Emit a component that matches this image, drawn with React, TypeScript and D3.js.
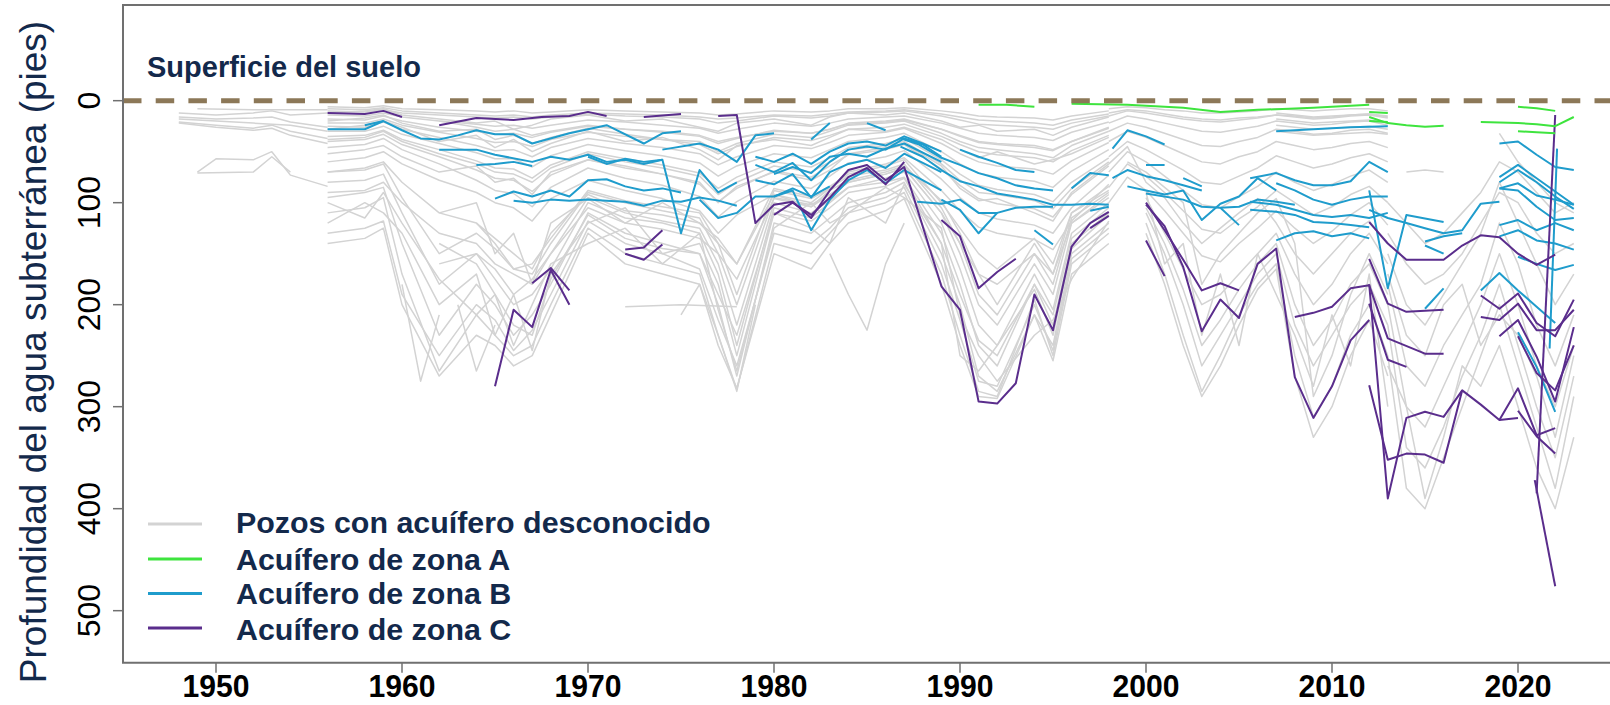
import React from 'react';
import * as d3 from 'd3';

type Pt = [number, number];
type Row = (number | null)[];

const W = 1610;
const H = 705;

const xTicks = [1950, 1960, 1970, 1980, 1990, 2000, 2010, 2020];
const yTicks = [0, 100, 200, 300, 400, 500];

// wells measured on the common 1956-1998 schedule
const bandYears = [1956, 1958, 1959, 1960, 1962, 1964, 1965, 1966, 1967, 1968, 1970, 1972, 1974, 1976, 1977, 1978, 1980, 1982, 1983, 1984, 1986, 1987, 1989, 1990, 1991, 1992, 1994, 1995, 1996, 1998];
const bandWells: Row[] = [
  [6, 7, 5, 8, 9, 10, 11, 10, 12, 11, 9, 10, 11, 12, 14, 13, 10, 11, 10, 8, 8, 7, 10, 12, 15, 16, 17, 19, 15, 10],
  [10, 11, 9, 12, 14, 16, 17, 16, 18, 16, 13, 15, 16, 18, 22, 20, 15, 17, 15, 12, 11, 10, 15, 19, 23, 24, 26, 28, 22, 15],
  [14, 15, 12, 16, 20, 23, 25, 24, 27, 24, 19, 21, 24, 27, 32, 28, 22, 25, 22, 18, 16, 15, 22, 27, 32, 34, 36, 39, 31, 21],
  [18, 19, 15, 20, 26, 30, 33, 32, 36, 31, 25, 28, 31, 35, 42, 37, 29, 32, 28, 23, 21, 19, 28, 35, 41, 43, 46, 49, 40, 27],
  [22, 22, 18, 24, 31, 37, 41, 40, 45, 38, 31, 35, 38, 43, 52, 45, 36, 39, 34, 28, 26, 23, 35, 43, 50, 53, 56, 60, 49, 34],
  [25, 26, 21, 28, 36, 44, 49, 48, 55, 46, 37, 42, 46, 52, 63, 55, 44, 47, 41, 34, 31, 27, 42, 52, 60, 64, 67, 72, 59, 41],
  [30, 30, 25, 33, 42, 51, 57, 57, 65, 54, 43, 49, 54, 61, 74, 64, 52, 56, 48, 40, 36, 32, 50, 62, 71, 75, 79, 85, 69, 48],
  [35, 34, 29, 38, 48, 59, 66, 67, 76, 63, 50, 57, 63, 71, 86, 75, 60, 65, 56, 46, 42, 37, 58, 72, 83, 87, 92, 99, 80, 56],
  [40, 38, 33, 43, 55, 68, 76, 78, 89, 73, 58, 66, 72, 82, 99, 86, 69, 75, 64, 53, 48, 43, 67, 83, 96, 101, 106, 114, 92, 64],
  [46, 43, 37, 48, 62, 78, 88, 91, 104, 85, 66, 76, 83, 94, 114, 99, 79, 86, 74, 61, 55, 49, 77, 95, 110, 116, 122, 130, 105, 73],
  [12, 10, 8, 14, 18, 22, 20, 28, 24, 18, 14, 20, 18, 26, 30, 22, 18, 24, 16, 12, 14, 12, 20, 26, 24, 30, 28, 34, 26, 16],
  [28, 24, 20, 26, 40, 34, 46, 38, 50, 42, 30, 40, 36, 48, 58, 44, 38, 44, 36, 28, 30, 26, 38, 48, 56, 50, 62, 58, 52, 36],
  [52, 48, 44, 55, 70, 64, 80, 76, 92, 70, 58, 64, 72, 80, 100, 84, 70, 78, 68, 52, 46, 42, 64, 86, 98, 96, 110, 118, 90, 62],
  [null, null, null, null, 20, 26, 30, 28, 34, 30, 24, 28, 30, 34, 40, 36, 30, 32, 28, 22, 20, 18, 28, 34, 40, 42, 44, 48, 40, 26],
  [60, 56, 50, 62, 78, 90, 100, 105, 118, 96, 78, 88, 96, 108, 130, 112, 92, 100, 86, 70, 62, 56, 88, 108, 124, 130, 136, 146, 118, 82],
  [8, 9, 7, 10, 12, 14, 15, 14, 16, 14, 12, 13, 14, 16, 18, 17, 14, 15, 13, 11, 10, 9, 13, 16, 19, 20, 22, 24, 19, 13],
  [20, 17, 14, 22, 30, 28, 38, 34, 42, 36, 27, 33, 38, 40, 50, 42, 33, 36, 30, 24, 22, 20, 32, 40, 46, 48, 52, 56, 44, 30],
  [38, 36, 30, 40, 52, 62, 70, 72, 80, 66, 52, 60, 66, 74, 92, 80, 64, 70, 60, 48, 44, 40, 62, 78, 90, 92, 98, 106, 86, 60],
  [95, 90, 85, 140, 230, 180, 200, 230, 210, 180, 110, 130, 140, 150, 200, 270, 120, 130, 115, 100, 90, 80, 150, 200, 270, 285, 210, 240, 150, 120],
  [110, 105, 95, 170, 265, 210, 230, 250, 240, 200, 125, 150, 160, 170, 230, 283, 140, 150, 130, 110, 100, 90, 170, 230, 285, 290, 195, 250, 160, 130],
  [null, null, null, null, 160, 150, 175, 200, 190, 165, 100, 115, 120, 130, 170, 240, 105, 115, 100, 85, 80, 75, 130, 180, 240, 260, 180, 220, 140, 110],
  [130, 125, 118, 190, 250, 200, 215, 245, 225, 190, 118, 140, 150, 165, 215, 260, 130, 140, 125, 105, 95, 85, 160, 215, 275, 280, 200, 245, 155, 125],
  [80, 78, 72, 110, 180, 150, 165, 190, 175, 150, 95, 110, 118, 125, 160, 220, 100, 110, 98, 85, 76, 70, 120, 165, 220, 240, 170, 205, 130, 100],
  [null, null, null, null, null, 120, 140, 165, 170, 140, 90, 100, 108, 115, 150, 200, 95, 102, 92, 80, 72, 66, 110, 150, 200, 220, 160, 190, 120, 95],
  [140, 135, 125, 200, 270, 230, 240, 260, 250, 210, 130, 160, 170, 180, 240, 282, 150, 165, 140, 120, 108, 96, 180, 240, 290, 292, 210, 255, 170, 140],
  [70, 68, 62, 95, 150, 130, 145, 165, 160, 135, 88, 98, 104, 110, 140, 190, 88, 96, 86, 74, 68, 62, 105, 140, 190, 210, 150, 180, 115, 90],
  [120, 100, 110, 130, 200, 170, 230, 190, 245, 170, 120, 105, 150, 140, 180, 250, 110, 125, 140, 95, 120, 82, 140, 250, 265, 240, 185, 230, 145, 112],
  [null, null, null, null, 110, 100, 150, 130, 180, 120, 96, 120, 100, 120, 135, 160, 92, 104, 88, 78, 70, 64, 98, 130, 170, 200, 140, 170, 110, 88],
  [90, 88, 80, 100, 130, 140, 160, 170, 180, 150, 105, 120, 126, 135, 150, 175, 96, 104, 92, 80, 72, 66, 110, 140, 170, 180, 150, 170, 120, 92],
  [null, null, null, null, 140, 160, 190, 220, 230, 175, 112, 135, 145, 150, 190, 230, 110, 118, 105, 90, 84, 76, 140, 190, 235, 250, 180, 210, 135, 105],
  [70, 66, 60, 80, 110, 120, 135, 150, 165, 130, 92, 108, 112, 120, 140, 160, 86, 94, 84, 72, 64, 58, 100, 125, 150, 165, 135, 160, 110, 84],
  [100, 115, 90, 120, 175, 210, 190, 240, 200, 160, 140, 125, 160, 130, 205, 265, 125, 100, 120, 110, 85, 95, 125, 210, 250, 275, 230, 215, 175, 118],
];

// wells measured 1998-2013
const midYears = [1998, 1999, 2000, 2001, 2002, 2003, 2004, 2005, 2006, 2007, 2008, 2009, 2010, 2011, 2012, 2013];
const midWells: Row[] = [
  [8, 6, 7, 9, 10, 12, 12, 11, 10, 8, 9, 10, 9, 8, 8, 10],
  [15, 10, 12, 15, 18, 20, 21, 19, 17, 14, 15, 17, 16, 14, 13, 16],
  [22, 15, 18, 22, 26, 30, 31, 28, 25, 20, 22, 24, 23, 21, 20, 24],
  [30, 22, 26, 32, 38, 44, 45, 40, 36, 28, 30, 33, 32, 29, 28, 32],
  [40, 30, 36, 44, 52, 60, 62, 55, 50, 40, 44, 48, 46, 42, 40, 46],
  [55, 40, 48, 58, 68, 80, 82, 74, 66, 54, 60, 66, 62, 56, 52, 60],
  [70, 50, 60, 74, 88, 102, 105, 94, 84, 70, 80, 88, 82, 74, 68, 80],
  [85, 62, 74, 90, 108, 126, 130, 116, 104, 88, 100, 112, 104, 92, 84, 100],
  [100, 75, 88, 108, 130, 152, 158, 140, 125, 108, 125, 140, 128, 112, 100, 122],
  [null, null, 95, 130, 165, 200, 190, 170, 150, 130, 170, 200, 180, 150, 130, 160],
  [null, null, 110, 150, 200, 260, 230, 200, 170, 150, 220, 260, 230, 200, 180, 220],
  [null, null, 120, 170, 230, 285, 250, 210, 180, 160, 250, 310, 280, 230, 200, 250],
  [null, null, 105, 140, 185, 240, 215, 185, 160, 140, 200, 240, 215, 180, 160, 200],
  [null, null, 130, 180, 240, 290, 260, 220, 185, 165, 270, 330, 300, 250, 215, 270],
  [12, 9, 10, 13, 16, 18, 19, 17, 16, 14, 16, 18, 17, 15, 14, 17],
  [62, 45, 80, 95, 120, 140, 125, 110, 96, 120, 150, 170, 150, 130, 118, 140],
  [null, 60, 70, 85, 100, 180, 150, 130, 110, 96, 140, 290, 250, 190, 150, 190],
  [null, null, 90, 160, 140, 230, 170, 240, 150, 190, 230, 280, 210, 260, 170, 300],
];

// wells measured 2013-2023
const lateYears = [2013, 2014, 2015, 2016, 2017, 2018, 2019, 2020, 2021, 2022, 2023];
const lateWells: Row[] = [
  [100, 120, 140, 130, 110, 90, 60, 70, 90, 110, 100],
  [150, 200, 220, 190, 160, 130, 80, 120, 160, 200, 170],
  [200, 300, 320, 280, 240, 200, 150, 200, 260, 300, 240],
  [250, 380, 400, 350, 300, 250, 200, 260, 320, 380, 290],
  [180, 260, 280, 240, 210, 180, 120, 160, 220, 260, 210],
  [130, 160, 180, 170, 150, 120, 90, 100, 130, 150, 140],
  [220, 340, 360, 320, 270, 230, 180, 240, 300, 350, 270],
  [null, null, null, null, null, null, 32, 60, 80, 100, 110],
  [null, 70, 68, 70, null, null, null, null, null, null, null],
  [170, 230, 250, 200, 180, 240, 210, 230, 270, 330, 250],
  [260, 300, 390, 330, 260, 280, 240, 300, 360, 400, 330],
];

const grayExtra: Pt[][] = [
  [[1948, 12], [1950, 14], [1952, 12], [1953, 10], [1954, 14], [1956, 12]],
  [[1948, 16], [1950, 18], [1952, 17], [1953, 16], [1954, 21], [1956, 26]],
  [[1948, 21], [1950, 24], [1952, 27], [1953, 24], [1954, 30], [1956, 37]],
  [[1948, 22], [1950, 26], [1952, 29], [1953, 27], [1954, 34], [1956, 42]],
  [[1949, 8], [1952, 9], [1956, 9]],
  [[1948, 18], [1950, 20], [1952, 22], [1954, 24], [1956, 30]],
  [[1949, 70], [1950, 57], [1952, 58], [1953, 50], [1954, 73], [1956, 84]],
  [[1949, 71], [1952, 70], [1953, 55], [1954, 70]],
  [[1972, 202], [1975, 200], [1978, 202]],
  [[1983, 150], [1984, 190], [1985, 225], [1986, 160], [1987, 120]],
  [[1960, 180], [1961, 275], [1962, 210]],
  [[1963, 200], [1964, 265], [1965, 220]],
  [[1975, 210], [1976, 180], [1977, 230], [1978, 285], [1979, 200]],
  [[2007, 12], [2008, 14], [2009, 16], [2010, 15], [2011, 14], [2012, 13], [2013, 15]],
  [[2007, 18], [2008, 20], [2009, 22], [2010, 21], [2011, 20], [2012, 19], [2013, 22]],
  [[2007, 24], [2008, 26], [2009, 28], [2010, 27], [2011, 26], [2012, 25], [2013, 28]],
  [[2007, 30], [2008, 32], [2009, 34], [2010, 33], [2011, 32], [2012, 31], [2013, 33]],
];

const zoneA: Pt[][] = [
  [[1991, 4], [1992.5, 4], [1994, 6]],
  [[1996, 3], [1999, 4], [2002, 7], [2004, 11], [2006, 9], [2009, 7], [2012, 4]],
  [[2012, 11], [2013, 12]],
  [[2012, 16], [2013, 22], [2014, 24], [2015, 25.5], [2016, 24.5]],
  [[2012, 20], [2013, 21]],
  [[2018, 21], [2020, 22], [2021, 23], [2022, 25], [2023, 16]],
  [[2020, 6], [2021, 7.5], [2022, 10]],
  [[2020, 30], [2021, 31], [2022, 32]],
];

const zoneB: Pt[][] = [
  [[1956, 28], [1958, 28], [1959, 20], [1960, 29], [1961, 37], [1962, 38], [1963, 34], [1964, 29], [1965, 33], [1966, 33], [1967, 42], [1969, 32], [1971, 24], [1973, 42], [1974, 32], [1975, 30]],
  [[1958, 24], [1959, 20]],
  [[1962, 48], [1964, 48], [1965, 53], [1967, 60], [1968, 55], [1969, 58], [1970, 53], [1971, 60], [1972, 58], [1973, 62], [1974, 58]],
  [[1964, 63], [1965, 62], [1966, 60], [1967, 64]],
  [[1965, 96], [1966, 89], [1967, 94], [1968, 88], [1969, 94], [1970, 78], [1971, 77], [1972, 84], [1973, 88], [1974, 86], [1975, 90]],
  [[1966, 98], [1967, 100], [1968, 97], [1969, 98], [1970, 97], [1971, 98], [1972, 99], [1973, 103], [1974, 98], [1975, 99], [1976, 95], [1977, 98], [1978, 103]],
  [[1970, 55], [1971, 62], [1972, 57], [1973, 60], [1974, 58], [1975, 130], [1976, 68], [1977, 90], [1978, 80]],
  [[1974, 48], [1976, 42], [1977, 48], [1978, 60], [1979, 34], [1980, 32]],
  [[1976, 97], [1977, 115], [1978, 110], [1979, 94], [1980, 94], [1981, 86], [1982, 94], [1983, 84]],
  [[1979, 63], [1980, 70], [1981, 61], [1982, 78], [1983, 60], [1984, 48], [1985, 45], [1986, 48], [1987, 37], [1988, 43], [1989, 55]],
  [[1980, 72], [1981, 65], [1982, 71], [1983, 55], [1984, 52], [1985, 55], [1986, 47], [1987, 42], [1989, 60]],
  [[1980, 94], [1981, 88], [1982, 127], [1983, 97], [1984, 78], [1985, 68], [1986, 81], [1987, 68], [1989, 88]],
  [[1982, 38], [1983, 22]],
  [[1985, 22], [1986, 29]],
  [[1979, 55], [1980, 60], [1981, 52], [1982, 62], [1983, 50], [1984, 42], [1985, 40], [1986, 44], [1987, 35], [1988, 42], [1989, 50]],
  [[1979, 78], [1980, 82], [1981, 72], [1982, 95], [1983, 70], [1984, 62], [1985, 58], [1986, 66], [1987, 52], [1989, 70]],
  [[1986.8, 37], [1987.8, 43], [1989, 56], [1990, 63], [1991, 71], [1992, 76], [1993, 83], [1994, 86], [1995, 88]],
  [[1986.8, 45], [1988, 55], [1989, 68], [1990, 79], [1991, 84], [1992, 91], [1993, 94], [1994, 97], [1995, 102], [1996, 102], [1997, 101], [1998, 102]],
  [[1990, 48], [1991, 55], [1992, 61], [1993, 68], [1994, 70]],
  [[1987.7, 99], [1989, 101], [1990, 97], [1991, 110], [1992, 110], [1993, 105], [1994, 104], [1995, 104]],
  [[1989, 97], [1990, 107], [1991, 130], [1992, 110]],
  [[1994, 127], [1995, 141]],
  [[1996, 86], [1997, 71], [1998, 73]],
  [[1997, 108], [1998, 104]],
  [[1998.2, 47], [1999, 29], [2000, 35], [2001, 43]],
  [[1998.2, 76], [1999, 68], [2000, 74], [2001, 78], [2002, 83], [2003, 88]],
  [[1999, 84], [2000, 88], [2001, 92], [2002, 88], [2003, 117], [2004, 101], [2005, 94], [2006, 76], [2007, 88]],
  [[2000, 91], [2002, 97], [2003, 104], [2004, 105], [2005, 104], [2006, 97], [2007, 99], [2008, 102]],
  [[2000, 63], [2001, 63]],
  [[2002, 76], [2003, 84]],
  [[2004, 105], [2005, 122]],
  [[2007, 30], [2009, 28], [2011, 26], [2013, 25]],
  [[2005.6, 76], [2007, 71], [2008, 78], [2009, 83], [2010, 83], [2011, 79], [2012, 60], [2013, 70]],
  [[2007, 81], [2008, 88], [2009, 97], [2010, 102], [2011, 97], [2012, 94], [2013, 94]],
  [[2005.6, 99], [2007, 102], [2008, 107], [2009, 112], [2010, 114], [2011, 112], [2012, 115], [2013, 110]],
  [[2007, 137], [2008, 130], [2009, 128], [2010, 133], [2011, 130], [2012, 135]],
  [[2005.6, 107], [2007, 109], [2008, 112], [2009, 119], [2010, 120], [2011, 122], [2012, 124]],
  [[2012, 88], [2013, 184], [2014, 112], [2016, 119]],
  [[2012, 107], [2013, 115], [2014, 120], [2015, 125], [2016, 130], [2017, 127], [2018, 101], [2019, 99]],
  [[2015, 138], [2016, 133], [2017, 130]],
  [[2015, 142], [2016, 150]],
  [[2015, 204], [2016, 184]],
  [[2019, 42], [2020, 40], [2021, 53], [2022, 65], [2023, 68]],
  [[2019, 75], [2020, 63], [2021, 76], [2022, 89], [2023, 102]],
  [[2019, 80], [2020, 68], [2021, 80], [2022, 94], [2023, 106]],
  [[2019, 86], [2020, 81], [2021, 93], [2022, 97], [2023, 102]],
  [[2019, 86], [2020, 88], [2021, 104], [2022, 117], [2023, 115]],
  [[2019, 122], [2020, 117], [2021, 127], [2022, 120], [2023, 127]],
  [[2019, 133], [2020, 127], [2021, 137], [2022, 140], [2023, 146]],
  [[2020, 153], [2021, 160], [2022, 166], [2023, 161]],
  [[2018, 186], [2019, 169], [2020, 186], [2021, 202], [2022, 218]],
  [[2020, 227], [2021, 261], [2022, 305]],
  [[2021.7, 243], [2022.1, 47]],
];

const zoneC: Pt[][] = [
  [[1956, 12], [1958, 13], [1959, 10], [1960, 16]],
  [[1962, 24], [1964, 17], [1966, 19], [1967.5, 16], [1969, 15], [1970, 11], [1971, 15]],
  [[1973, 16], [1975, 13]],
  [[1977, 15], [1978, 14], [1979, 120], [1980, 102], [1981, 99], [1982, 115], [1983, 88], [1984, 68], [1985, 63], [1986, 78], [1987, 65], [1989, 182], [1990, 205], [1991, 295], [1992, 297], [1993, 277], [1994, 190], [1995, 225], [1996, 143], [1997, 120], [1998, 109]],
  [[1980, 112], [1981, 100], [1982, 112], [1983, 95], [1984, 75], [1985, 66], [1986, 82], [1987, 60]],
  [[1989, 117], [1990, 133], [1991, 184], [1992, 168], [1993, 155]],
  [[1997, 125], [1998, 113]],
  [[2000, 100], [2001, 127], [2002, 156], [2003, 186], [2004, 179], [2005, 186]],
  [[2000, 102], [2001, 123], [2002, 163], [2003, 226], [2004, 195], [2005, 213], [2006, 160], [2007, 145], [2008, 271], [2009, 311], [2010, 280], [2011, 235], [2012, 215]],
  [[2000, 137], [2001, 172]],
  [[2012, 119], [2013, 140], [2014, 156], [2016, 156], [2017, 142], [2018, 132], [2019, 134], [2020, 150], [2021, 161], [2022, 151]],
  [[2012, 155], [2013, 199], [2014, 207], [2016, 205]],
  [[2008, 212], [2009, 208], [2010, 202], [2011, 184], [2012, 181], [2013, 233], [2015, 248], [2016, 248]],
  [[2012, 199], [2013, 254], [2014, 261]],
  [[2012, 180], [2013, 390], [2014, 311], [2015, 305], [2016, 310], [2017, 284], [2018, 298], [2019, 313], [2020, 311]],
  [[2012, 279], [2013, 352], [2014, 346], [2015, 347], [2016, 355], [2017, 284]],
  [[2021, 385], [2022, 14]],
  [[2020.9, 372], [2022, 476]],
  [[2018, 191], [2019, 204], [2020, 189], [2021, 218], [2022, 231], [2023, 195]],
  [[2018, 212], [2019, 215], [2020, 199], [2021, 225], [2022, 225], [2023, 205]],
  [[2019, 231], [2020, 215], [2021, 251], [2022, 295], [2023, 222]],
  [[2020, 231], [2021, 267], [2022, 284], [2023, 240]],
  [[2019, 313], [2020, 282], [2021, 328], [2022, 321]],
  [[2020, 304], [2021, 329], [2022, 346]],
  [[1965, 280], [1966, 205], [1967, 222], [1968, 166], [1969, 200]],
  [[1967, 179], [1968, 164], [1969, 186]],
  [[1972, 146], [1973, 144], [1974, 127]],
  [[1972, 150], [1973, 156], [1974, 141]],
];

const GRAY = '#d3d3d3';
const COL_A = '#3ee43e';
const COL_B = '#1f9ccc';
const COL_C = '#5a2d8c';
const NAVY = '#13294b';

const legendItems = [
  { label: 'Pozos con acuífero desconocido', color: GRAY },
  { label: 'Acuífero de zona A', color: COL_A },
  { label: 'Acuífero de zona B', color: COL_B },
  { label: 'Acuífero de zona C', color: COL_C },
];

const FONT = '"Liberation Sans", Arial, Helvetica, sans-serif';

export default function App() {
  const left = 123;
  const top = 5;
  const bottom = 662.7;

  const x = d3.scaleLinear().domain([1945, 2025]).range([left, 1611]);
  const y = d3.scaleLinear().domain([-93.8, 551]).range([top, bottom]);

  const line = d3.line<[number, number | null]>()
    .defined(d => d[1] != null)
    .x(d => x(d[0]))
    .y(d => y(d[1] as number));

  const rowPath = (years: number[], row: Row) =>
    line(years.map((yr, i) => [yr, row[i]] as [number, number | null])) || '';

  const grayPaths = [
    ...bandWells.map(r => rowPath(bandYears, r)),
    ...midWells.map(r => rowPath(midYears, r)),
    ...lateWells.map(r => rowPath(lateYears, r)),
    ...grayExtra.map(s => line(s) || ''),
  ];

  // legend rows: line y and text baseline
  const legLine = [524, 559, 593.5, 628];
  const legText = [533, 569.5, 604, 640];

  return (
    <div style={{ position: 'absolute', left: 0, top: 0, background: '#fff' }}>
      <svg width={W} height={H} style={{ display: 'block' }}>
        <defs>
          <clipPath id="plot">
            <rect x={left} y={top} width={W - left} height={bottom - top} />
          </clipPath>
        </defs>
        <rect width={W} height={H} fill="#fff" />

        <g clipPath="url(#plot)" fill="none" strokeLinejoin="round">
          {grayPaths.map((d, i) => (
            <path key={'g' + i} d={d} stroke={GRAY} strokeWidth={1.5} />
          ))}
          {zoneB.map((s, i) => (
            <path key={'b' + i} d={line(s) || ''} stroke={COL_B} strokeWidth={2} />
          ))}
          {zoneC.map((s, i) => (
            <path key={'c' + i} d={line(s) || ''} stroke={COL_C} strokeWidth={2} />
          ))}
          {zoneA.map((s, i) => (
            <path key={'a' + i} d={line(s) || ''} stroke={COL_A} strokeWidth={2} />
          ))}
          <line x1={left} x2={W} y1={y(0)} y2={y(0)} stroke="#8c7858" strokeWidth={5} strokeDasharray="18.5 14.2" />
        </g>

        {/* frame */}
        <path d={`M${W},${top}H${left}V${bottom}H${W}`} fill="none" stroke="#707070" strokeWidth={2} />

        {/* y axis */}
        {yTicks.map(t => (
          <g key={'yt' + t}>
            <line x1={left - 10} x2={left} y1={y(t)} y2={y(t)} stroke="#707070" strokeWidth={1.5} />
            <text transform={`translate(100,${y(t)}) rotate(-90)`} textAnchor="middle" fontFamily={FONT} fontSize={32} fill="#000">
              {t}
            </text>
          </g>
        ))}
        <text transform={`translate(46,352) rotate(-90)`} textAnchor="middle" fontFamily={FONT} fontSize={37} fill={NAVY}>
          Profundidad del agua subterránea (pies)
        </text>

        {/* x axis */}
        {xTicks.map(t => (
          <g key={'xt' + t}>
            <line x1={x(t)} x2={x(t)} y1={bottom} y2={bottom + 10} stroke="#707070" strokeWidth={1.5} />
            <text x={x(t)} y={697} textAnchor="middle" fontFamily={FONT} fontSize={32} fontWeight="bold" fill="#000"
              textLength={67} lengthAdjust="spacingAndGlyphs">
              {t}
            </text>
          </g>
        ))}

        <text x={147} y={77} fontFamily={FONT} fontSize={29} fontWeight="bold" fill={NAVY}>
          Superficie del suelo
        </text>

        {/* legend */}
        {legendItems.map((it, i) => (
          <g key={'lg' + i}>
            <line x1={148} x2={202} y1={legLine[i]} y2={legLine[i]} stroke={it.color} strokeWidth={3} />
            <text x={236} y={legText[i]} fontFamily={FONT} fontSize={30.4} fontWeight="bold" fill={NAVY}>
              {it.label}
            </text>
          </g>
        ))}
      </svg>
    </div>
  );
}
